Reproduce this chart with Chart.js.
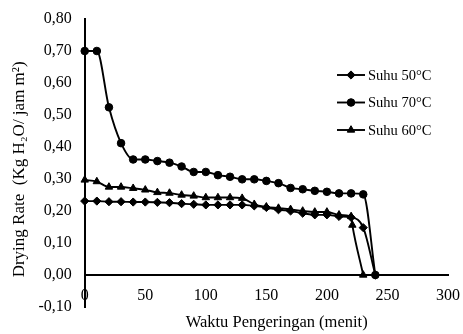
<!DOCTYPE html>
<html><head><meta charset="utf-8">
<script src="https://cdn.jsdelivr.net/npm/chart.js@4.4.1/dist/chart.umd.min.js"></script>
<style>html,body{margin:0;padding:0;background:#fff;overflow:hidden}</style>
</head><body>
<canvas id="c" width="463" height="334"></canvas>
<script>
const seriesNames = ['Suhu 50°C', 'Suhu 70°C', 'Suhu 60°C'];
const time50 = [0,10,20,30,40,50,60,70,80,90,100,110,120,130,140,150,160,170,180,190,200,210,220,230,240];
const rate50 = [0.231,0.231,0.229,0.229,0.228,0.228,0.227,0.226,0.223,0.221,0.219,0.219,0.219,0.219,0.216,0.211,0.204,0.200,0.193,0.188,0.188,0.183,0.180,0.148,0.000];
const time70 = [0,10,20,30,40,50,60,70,80,90,100,110,120,130,140,150,160,170,180,190,200,210,220,230,240];
const rate70 = [0.700,0.700,0.524,0.412,0.361,0.361,0.356,0.351,0.339,0.322,0.322,0.312,0.307,0.299,0.299,0.294,0.287,0.272,0.268,0.263,0.260,0.255,0.255,0.252,0.000];
const time60 = [0,10,20,30,40,50,60,70,80,90,100,110,120,130,140,150,160,170,180,190,200,210,220,221,230];
const rate60 = [0.297,0.292,0.275,0.275,0.271,0.266,0.258,0.256,0.250,0.247,0.242,0.242,0.242,0.240,0.221,0.213,0.209,0.205,0.200,0.197,0.197,0.188,0.183,0.156,0.000];
const xTickValues = [0,50,100,150,200,250,300];
const yTickValues = [-0.1,0,0.1,0.2,0.3,0.4,0.5,0.6,0.7,0.8];
const xTitle = '     Waktu Pengeringan (menit)';
const yTitle = 'Drying Rate  (Kg H\u2082O/ jam m\u00B2)   ';

const serif = '"Liberation Serif", "Times New Roman", serif';
const yTickFont = {family: serif, size: 16, lineHeight: 0.1};
const xTickFont = {family: serif, size: 16, lineHeight: 2.625};
const xTitleFont = {family: serif, size: 16.5};
const yTitleFont = {family: serif, size: 17};
const toPts = (ts, vs) => ts.map((t, i) => ({x: t, y: vs[i]}));
const fmt = v => (Math.abs(v) < 1e-9 ? 0 : v).toFixed(2).replace('.', ',');

const styleOf = (label, times, vals, shape, r) => ({
  label, data: toPts(times, vals), pointStyle: shape, pointRadius: r,
  borderColor: '#000', backgroundColor: '#000', pointBackgroundColor: '#000', pointBorderColor: '#000',
  borderWidth: 1.9, pointBorderWidth: 1, cubicInterpolationMode: 'monotone', clip: false
});

const inlineLegend = {
  id: 'inlineLegend',
  afterDraw(chart) {
    const ctx = chart.ctx;
    const x0 = 337, len = 28, gap = 27.5;
    let y = 75;
    chart.data.datasets.forEach(ds => {
      ctx.save();
      ctx.strokeStyle = '#000'; ctx.fillStyle = '#000'; ctx.lineWidth = 1.9;
      ctx.beginPath(); ctx.moveTo(x0, y); ctx.lineTo(x0 + len, y); ctx.stroke();
      ctx.lineWidth = 1;
      Chart.helpers.drawPoint(ctx, {pointStyle: ds.pointStyle, radius: ds.pointRadius, borderWidth: 1}, x0 + len / 2, y);
      ctx.font = '14.5px ' + serif; ctx.textBaseline = 'middle'; ctx.textAlign = 'left';
      ctx.fillText(ds.label, x0 + len + 3, y + 1);
      ctx.restore();
      y += gap;
    });
  }
};

new Chart(document.getElementById('c'), {
  type: 'line',
  data: {datasets: [
    styleOf(seriesNames[0], time50, rate50, 'rectRot', 4.1),
    styleOf(seriesNames[1], time70, rate70, 'circle', 3.8),
    styleOf(seriesNames[2], time60, rate60, 'triangle', 4.3)
  ]},
  options: {
    responsive: false, animation: false, devicePixelRatio: 1,
    layout: {autoPadding: false, padding: {left: 5, right: 15, top: 19, bottom: 27}},
    plugins: {legend: {display: false}, tooltip: {enabled: false}},
    scales: {
      x: {
        type: 'linear', position: {y: 0}, min: 0, max: 300,
        afterBuildTicks: s => { s.ticks = xTickValues.map(v => ({value: v})); },
        ticks: {padding: 0, font: xTickFont, color: '#000', callback: v => String(v)},
        grid: {display: false, drawTicks: false},
        border: {display: true, color: '#000', width: 2},
        title: {display: true, text: xTitle, font: xTitleFont, color: '#000', padding: {top: -4, bottom: 0}}
      },
      y: {
        type: 'linear', min: -0.1, max: 0.8,
        afterBuildTicks: s => { s.ticks = yTickValues.map(v => ({value: v})); },
        ticks: {padding: 13, font: yTickFont, color: '#000', callback: v => fmt(v)},
        grid: {display: false, drawTicks: false},
        border: {display: true, color: '#000', width: 2},
        title: {display: true, text: yTitle, font: yTitleFont, color: '#000', padding: {top: 4, bottom: -4}}
      }
    }
  },
  plugins: [inlineLegend]
});
</script>
</body></html>
